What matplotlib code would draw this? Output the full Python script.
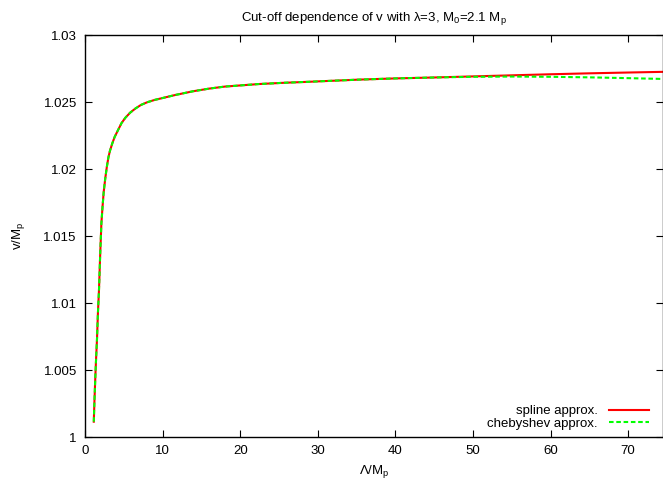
import matplotlib
matplotlib.use("Agg")
import matplotlib.pyplot as plt

# values (Lambda/M_p, v/M_p)
lam = [1.12, 1.2, 1.32, 1.42, 1.53, 1.65, 1.79, 1.95, 2.1, 2.25, 2.4, 2.6, 2.8,
       3.0, 3.2, 3.5, 3.8, 4.2, 4.7, 5.2, 5.8, 6.5, 7.2, 8.0, 9.0, 10.3, 11.6,
       13.9, 16.0, 18.0, 22.4, 25.5, 28.9, 35.3, 40.0, 45.0, 50.0, 55.0, 60.0,
       65.0, 70.0, 74.5]
spline = [1.00114, 1.0026, 1.0045, 1.0059, 1.00724, 1.0092, 1.01097, 1.0137,
          1.01595, 1.0172, 1.01830, 1.0193, 1.02015, 1.02085, 1.02135, 1.02190,
          1.02238, 1.02285, 1.02343, 1.02383, 1.02420, 1.02452, 1.02478, 1.02498,
          1.02516, 1.02534, 1.02552, 1.0258, 1.02600, 1.02615, 1.02634, 1.02643,
          1.02651, 1.02667, 1.02676, 1.02683, 1.02691, 1.02699, 1.02707, 1.02714,
          1.0272, 1.02725]
cheby = [1.00114, 1.0026, 1.0045, 1.0059, 1.00724, 1.0092, 1.01097, 1.0137,
         1.01595, 1.0172, 1.01830, 1.0193, 1.02015, 1.02085, 1.02135, 1.02190,
         1.02238, 1.02285, 1.02343, 1.02383, 1.02420, 1.02452, 1.02478, 1.02498,
         1.02516, 1.02534, 1.02552, 1.0258, 1.02600, 1.02615, 1.02634, 1.02643,
         1.02651, 1.02667, 1.02676, 1.02683, 1.02688, 1.0269, 1.02688, 1.02684,
         1.02678, 1.02672]

xticks = [0, 10, 20, 30, 40, 50, 60, 70]
yticks = [1, 1.005, 1.01, 1.015, 1.02, 1.025, 1.03]
ytick_labels = ["1", "1.005", "1.01", "1.015", "1.02", "1.025", "1.03"]

plt.rcParams['font.family'] = ['Liberation Sans', 'DejaVu Sans']
plt.rcParams['font.size'] = 9.5
plt.rcParams['mathtext.fontset'] = 'custom'
plt.rcParams['mathtext.rm'] = 'Liberation Sans'
plt.rcParams['mathtext.it'] = 'Liberation Sans'

fig = plt.figure(figsize=(6.63, 4.79), dpi=100)
ax = fig.add_axes([85.1 / 663, (479 - 437) / 479, 1 - 85.1 / 663, (437 - 35) / 479])

ax.plot(lam, spline, color='#ff0000', lw=1.5, label='spline approx.')
ax.plot(lam, cheby, color='#00ff00', lw=1.5, dashes=(2.2, 1.3), label='chebyshev approx.')

ax.set_xlim(0, 74.5)
ax.set_ylim(1.0, 1.03)
ax.set_xticks(xticks)
ax.set_yticks(yticks)
ax.set_yticklabels(ytick_labels)
ax.tick_params(direction='in', top=True, right=True, length=5, width=0.8, pad=6)
for s in ax.spines.values():
    s.set_linewidth(1.0)

ax.set_xlabel('Λ/M$_\\mathrm{p}$', labelpad=4)
ax.set_ylabel('v/M$_\\mathrm{p}$', labelpad=12)
ax.set_title('Cut-off dependence of v with λ=3, M$_\\mathrm{0}$=2.1 M$_\\mathrm{p}$',
             fontsize=9.5, pad=10)

ax.legend(loc='lower right', frameon=False, markerfirst=False, handlelength=3.0,
          borderaxespad=0.0, labelspacing=0.05, handletextpad=0.9,
          bbox_to_anchor=(0.985, 0.004))

fig.savefig('out.png', dpi=100)
